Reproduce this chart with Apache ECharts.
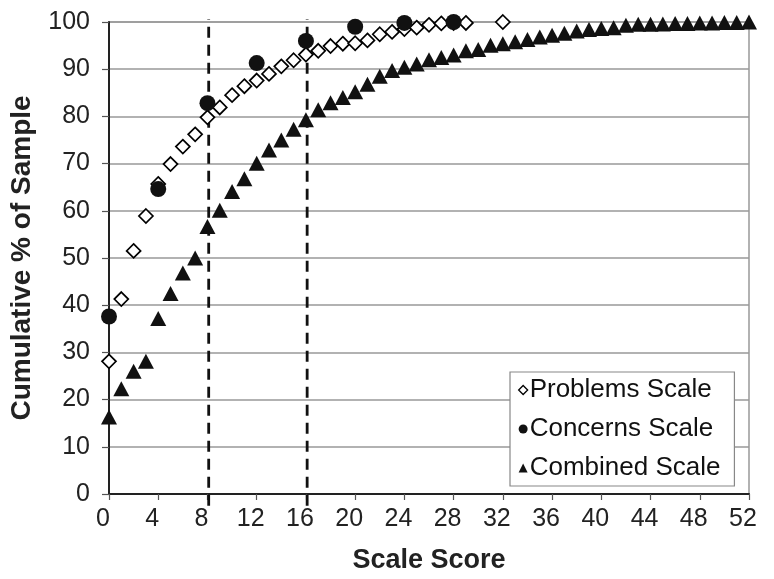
<!DOCTYPE html>
<html>
<head>
<meta charset="utf-8">
<script src="https://cdn.jsdelivr.net/npm/echarts@6/dist/echarts.min.js"></script>
<style>html,body{margin:0;padding:0;background:#fff;}#c{width:774px;height:579px;}</style>
</head>
<body>
<div id="c"></div>
<script>
var xTicks = [0, 4, 8, 12, 16, 20, 24, 28, 32, 36, 40, 44, 48, 52];
var problemsX = [0,1,2,3,4,5,6,7,8,9,10,11,12,13,14,15,16,17,18,19,20,21,22,23,24,25,26,27,28,29,32];
var problemsY = [28.1,41.3,51.5,58.9,65.7,69.9,73.6,76.2,79.8,81.9,84.5,86.4,87.6,89.0,90.6,91.9,93.1,93.9,94.9,95.4,95.5,96.1,97.4,97.9,98.5,98.8,99.4,99.7,99.8,99.8,100];
var concernsX = [0,4,8,12,16,20,24,28];
var concernsY = [37.6,64.6,82.8,91.3,96.0,99.0,99.8,100];
var combinedX = [0,1,2,3,4,5,6,7,8,9,10,11,12,13,14,15,16,17,18,19,20,21,22,23,24,25,26,27,28,29,30,31,32,33,34,35,36,37,38,39,40,41,42,43,44,45,46,47,48,49,50,51,52];
var combinedY = [16.3,22.3,26.0,28.1,37.2,42.5,46.8,50.0,56.7,60.1,64.1,66.8,70.1,72.9,75.0,77.3,79.3,81.4,82.9,84.0,85.2,86.8,88.5,89.7,90.4,91.1,92.0,92.5,93.0,93.9,94.2,95.1,95.4,95.8,96.3,96.8,97.2,97.6,98.1,98.4,98.6,98.8,99.3,99.5,99.5,99.6,99.7,99.7,99.8,99.8,99.9,99.9,100];
var cutoffs = [8.1, 16.1];
var cutoffSpan = [-2.5, 100.6];

function pairs(xs, ys){ return xs.map(function(x,i){ return [x, ys[i]]; }); }

var font = 'Liberation Sans, Arial, sans-serif';
var series = [
  { name:'Problems Scale', type:'scatter', symbol:'diamond', symbolSize:[14,14], clip:false, z:3,
    itemStyle:{color:'#fff', borderColor:'#000', borderWidth:1.7, opacity:1},
    data: pairs(problemsX, problemsY) },
  { name:'Concerns Scale', type:'scatter', symbol:'circle', symbolSize:16, clip:false, z:4,
    itemStyle:{color:'#111', opacity:1},
    data: pairs(concernsX, concernsY) },
  { name:'Combined Scale', type:'scatter', symbol:'triangle', symbolSize:[16,15], clip:false, z:5,
    itemStyle:{color:'#111', opacity:1},
    data: pairs(combinedX, combinedY) }
];
cutoffs.forEach(function(c){
  series.push({ type:'line', silent:true, clip:false, symbol:'none', z:2,
    lineStyle:{color:'#111', width:2.8, type:[11,7]},
    data: cutoffSpan.map(function(v){ return [c, v]; }) });
});

var chart = echarts.init(document.getElementById('c'), null, {renderer:'canvas'});
chart.setOption({
  animation:false,
  backgroundColor:'#fff',
  grid:{left:107, right:25, top:22, bottom:80, show:true, borderColor:'#999', borderWidth:1.5, backgroundColor:'transparent'},
  legend:{
    orient:'vertical', left:510, top:372, width:227,
    padding:[5,14,5,8], itemGap:13, itemWidth:9, itemHeight:9,
    backgroundColor:'#fff', borderColor:'#888', borderWidth:1.2,
    textStyle:{fontFamily:font, fontSize:26, color:'#111', padding:[0,0,0,-3]},
    data:[
      {name:'Problems Scale', icon:'diamond', itemStyle:{color:'#fff', borderColor:'#000', borderWidth:1.3}},
      {name:'Concerns Scale', icon:'circle', itemStyle:{color:'#111'}},
      {name:'Combined Scale', icon:'triangle', itemStyle:{color:'#111'}}
    ]
  },
  xAxis:{
    type:'value', min:0, max:52, interval:4,
    name:'Scale Score', nameLocation:'middle', nameGap:53,
    nameTextStyle:{fontFamily:font, fontSize:27, fontWeight:'bold', color:'#222'},
    axisLine:{show:true, onZero:false, lineStyle:{color:'#222', width:2}},
    axisTick:{show:true, length:6, lineStyle:{color:'#555', width:1.2}},
    axisLabel:{fontFamily:font, fontSize:25, color:'#222', margin:13, padding:[0,12,0,0],
      formatter:function(v){ return xTicks.indexOf(v) >= 0 ? String(v) : ''; }},
    splitLine:{show:false}
  },
  yAxis:{
    type:'value', min:0, max:100, interval:10,
    name:'Cumulative % of Sample', nameLocation:'middle', nameGap:73, nameRotate:90,
    nameTextStyle:{fontFamily:font, fontSize:28, fontWeight:'bold', color:'#222'},
    axisLine:{show:true, lineStyle:{color:'#222', width:2}},
    axisTick:{show:true, length:7, lineStyle:{color:'#555', width:1.2}},
    axisLabel:{fontFamily:font, fontSize:25, color:'#222', margin:19},
    splitLine:{show:true, lineStyle:{color:'#999', width:1.5}}
  },
  series: series
});
</script>
</body>
</html>
